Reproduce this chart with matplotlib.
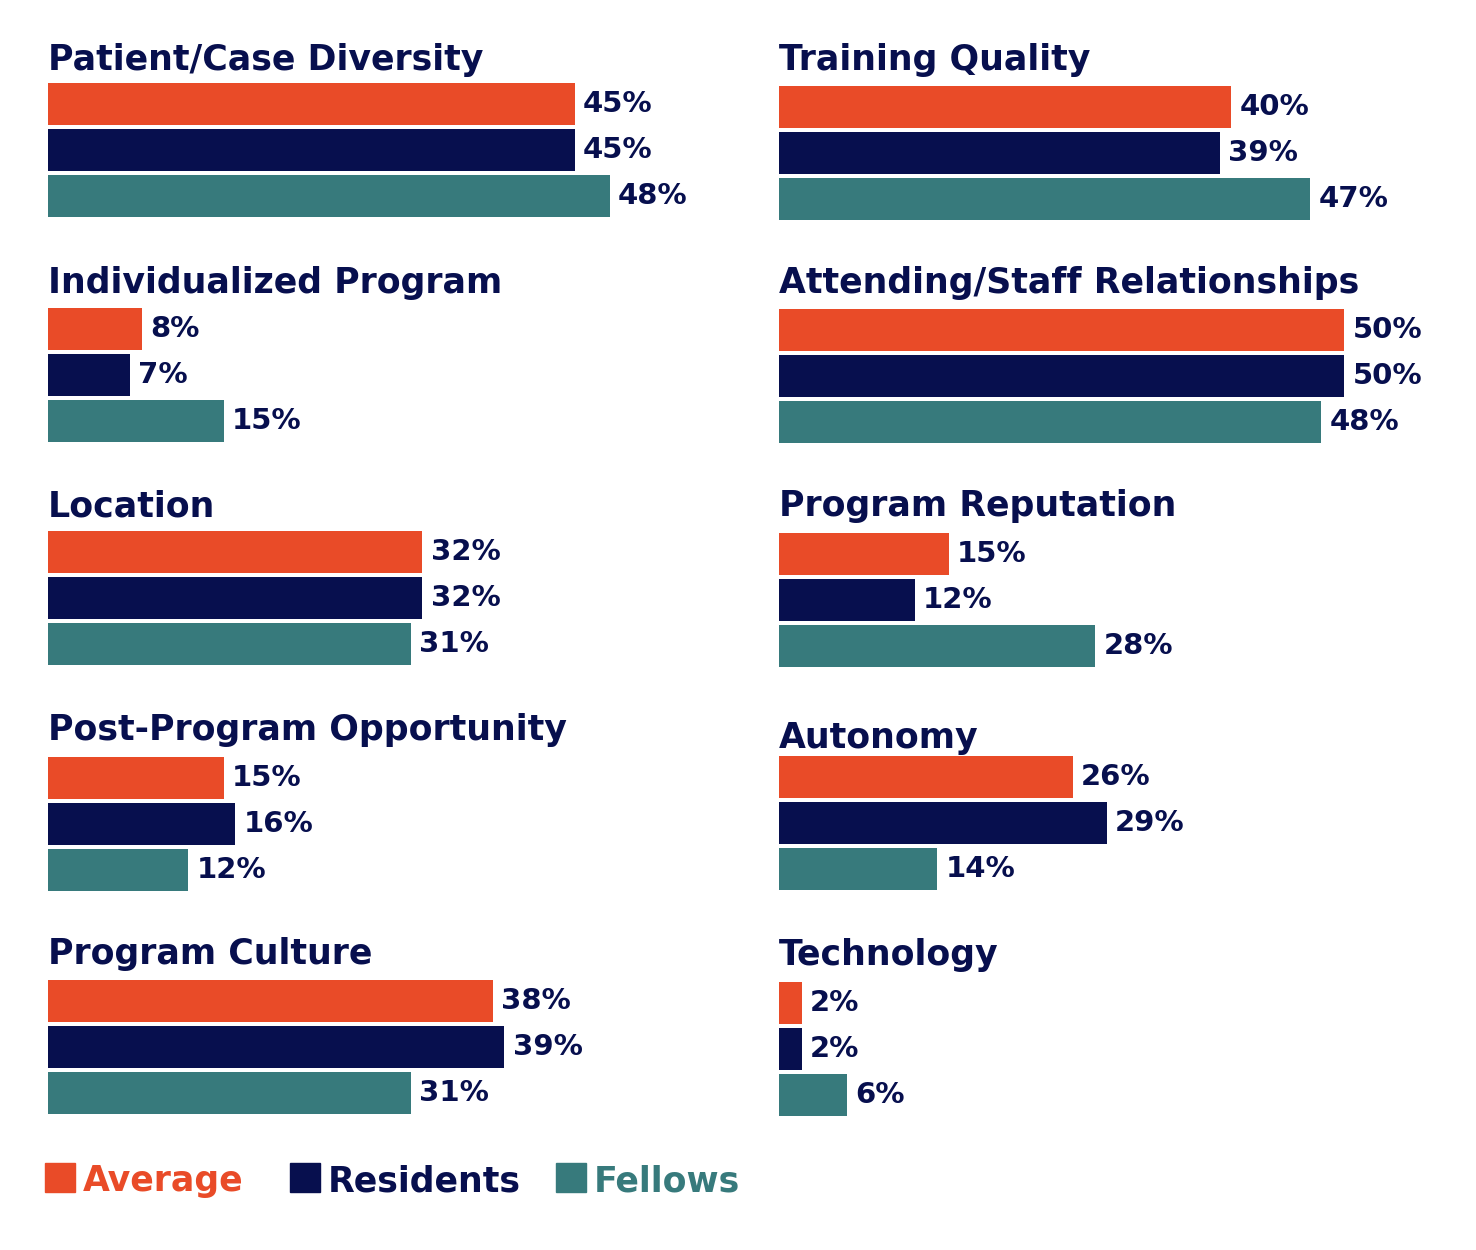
import matplotlib
matplotlib.use("Agg")
import matplotlib.pyplot as plt
from matplotlib.patches import Rectangle

plt.rcParams['font.family'] = ['DejaVu Sans']

# data
left_titles = ["Patient/Case Diversity", "Individualized Program", "Location",
               "Post-Program Opportunity", "Program Culture"]
left_avg = [45, 8, 32, 15, 38]
left_res = [45, 7, 32, 16, 39]
left_fel = [48, 15, 31, 12, 31]

right_titles = ["Training Quality", "Attending/Staff Relationships", "Program Reputation",
                "Autonomy", "Technology"]
right_avg = [40, 50, 15, 26, 2]
right_res = [39, 50, 12, 29, 2]
right_fel = [47, 48, 28, 14, 6]

series = ["Average", "Residents", "Fellows"]
colors = ["#E94B28", "#070F4E", "#377A7C"]
navy = "#070F4E"

W, H = 1476, 1250
fig = plt.figure(figsize=(W / 100, H / 100), dpi=100)

BAR_H, PITCH = 42, 46
AX_W = 650

def panel(x0, top, title_base, title, vals, px_per_pct):
    h = 2 * PITCH + BAR_H
    ax = fig.add_axes([x0 / W, 1 - (top + h) / H, AX_W / W, h / H])
    ax.set_xlim(0, AX_W / px_per_pct)
    ax.set_ylim(h, 0)
    for i, (v, c) in enumerate(zip(vals, colors)):
        ax.barh(i * PITCH, v, height=BAR_H, align='edge', color=c)
        ax.annotate(f"{v}%", (v, i * PITCH + BAR_H / 2), xytext=(6, 0),
                    textcoords='offset points', va='center', ha='left',
                    fontsize=21, fontweight='bold', color=navy)
    ax.axis('off')
    fig.text(x0 / W, 1 - title_base / H, title, fontsize=25, fontweight='bold',
             color=navy, va='baseline', ha='left')

left_tops = [83, 308, 531, 757, 980]
left_tb = [70, 293, 516, 740, 964]
right_tops = [86, 309, 533, 756, 982]
right_tb = [70, 293, 516, 748, 965]

for k in range(5):
    panel(48, left_tops[k], left_tb[k], left_titles[k],
          [left_avg[k], left_res[k], left_fel[k]], 11.7)
    panel(779, right_tops[k], right_tb[k], right_titles[k],
          [right_avg[k], right_res[k], right_fel[k]], 11.3)

# legend
leg_x = [45, 290, 556]
for x, name, c in zip(leg_x, series, colors):
    fig.patches.append(Rectangle((x / W, 1 - 1192 / H), 30 / W, 29 / H,
                                 transform=fig.transFigure, color=c))
    fig.text((x + 38) / W, 1 - 1191 / H, name, fontsize=25, fontweight='bold',
             color=c, va='baseline', ha='left')

fig.savefig("out.png", dpi=100, facecolor='white')
